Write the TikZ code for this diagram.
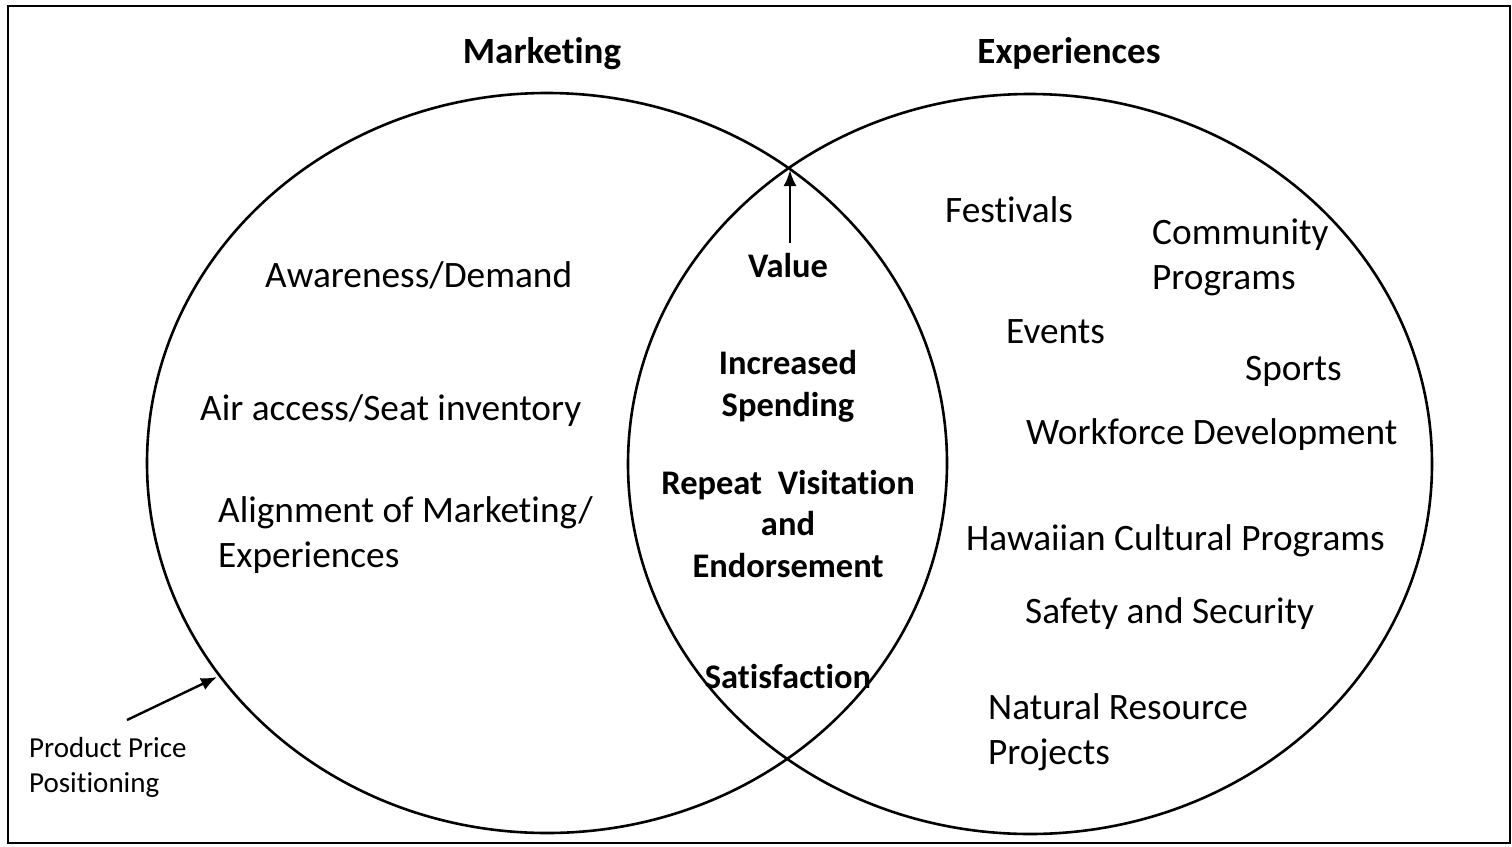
\documentclass[tikz,border=0pt]{standalone}
\usepackage{fontspec}
\setmainfont{Carlito}[Ligatures=NoCommon]
\usetikzlibrary{positioning,arrows.meta}

\begin{document}
\begin{tikzpicture}[x=1pt,y=-1pt,
  every node/.style={inner sep=0pt},
  item/.style={font=\fontsize{37.3}{45}\selectfont, anchor=base west, align=left},
  head/.style={font=\fontsize{37}{45}\selectfont\bfseries, anchor=base},
  mid/.style={font=\fontsize{34.5}{41.5}\selectfont\bfseries, anchor=base, align=center},
  small/.style={font=\fontsize{29}{35}\selectfont, anchor=base west, align=left},
  arr/.style={line width=2.4pt, -{Latex[length=16pt,width=13pt]}}]
\useasboundingbox (0,0) rectangle (1512,846);
\draw [line width = 2.4pt] (8,6) rectangle (1510,843);
% the two sets
\draw [line width = 2.6pt] (547,463) ellipse [x radius=400, y radius=370];
\draw [line width = 2.6pt] (1030,464) ellipse [x radius=402, y radius=370];
\node[head] (mkt) at (542,63) {Marketing};
\node[head] (exp) at (1069,63) {Experiences};
% marketing side
\node[item] (aware) at (265,287) {Awareness/Demand};
\node[item] (air) at (200,420) {Air access/Seat inventory};
\node[item] (align) at (218,567) {Alignment of Marketing/\\Experiences};
% overlap
\node[mid] (value) at (788,277) {Value};
\node[mid] (spend) at (788,416) {Increased\\Spending};
\node[mid] (repeat) at (788,577) {Repeat~ Visitation\\and\\Endorsement};
\node[mid] (satis) at (788,688) {Satisfaction};
% experiences side
\node[item] (fest) at (945,222) {Festivals};
\node[item] (comm) at (1152,289) {Community\\Programs};
\node[item] (events) at (1006,343) {Events};
\node[item] (sports) at (1245,380) {Sports};
\node[item] (work) at (1026,444) {Workforce Development};
\node[item] (hawaii) at (966,550) {Hawaiian Cultural Programs};
\node[item] (safety) at (1025,623) {Safety and Security};
\node[item] (nature) at (988,764) {Natural Resource\\Projects};
% pointers
\node[small] (price) at (29,792) {Product Price\\Positioning};
\coordinate (top) at (790,170);
\coordinate (rim) at (217,677);
\coordinate (ptail) at (127,720);
\draw[arr, shorten <=10pt] (top |- value.north) -- (top);
\draw[arr] (ptail) -- (rim);
\end{tikzpicture}
\end{document}
